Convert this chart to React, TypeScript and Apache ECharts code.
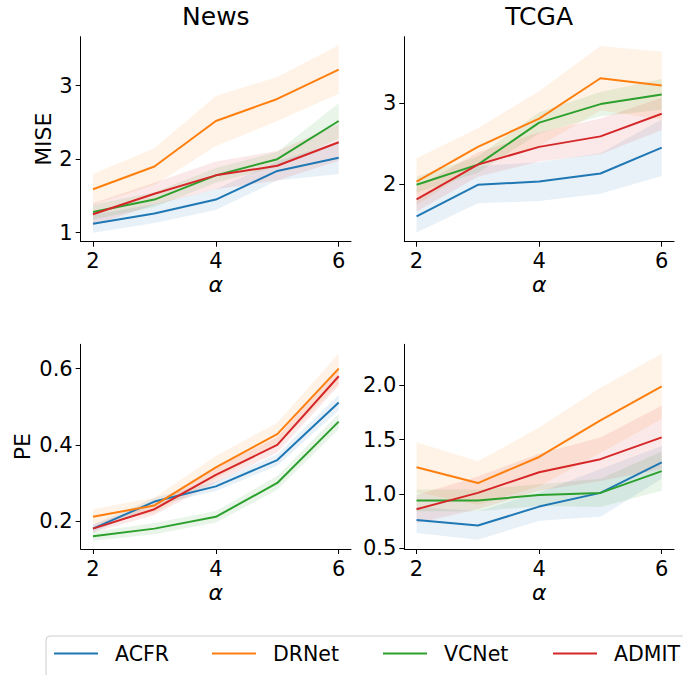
import React, { useEffect, useRef } from "react";
import * as echarts from "echarts";

// ---------- data ----------
const alphas = [2, 3, 4, 5, 6];
const methods = ["ACFR", "DRNet", "VCNet", "ADMIT"];
const colors = ["#1f77b4", "#ff7f0e", "#2ca02c", "#d62728"];
const panelTitles = ["News", "TCGA"];
const rowLabels = ["MISE", "PE"];

// News – MISE (mean, std)
const newsMiseAcfr = [1.12, 1.26, 1.45, 1.84, 2.02];
const newsMiseAcfrStd = [0.12, 0.13, 0.14, 0.13, 0.22];
const newsMiseDrnet = [1.59, 1.9, 2.52, 2.82, 3.22];
const newsMiseDrnetStd = [0.21, 0.25, 0.34, 0.3, 0.33];
const newsMiseVcnet = [1.28, 1.45, 1.78, 2.0, 2.52];
const newsMiseVcnetStd = [0.1, 0.1, 0.1, 0.1, 0.24];
const newsMiseAdmit = [1.25, 1.53, 1.78, 1.91, 2.23];
const newsMiseAdmitStd = [0.15, 0.15, 0.19, 0.2, 0.25];

// TCGA – MISE
const tcgaMiseAcfr = [1.6, 1.99, 2.03, 2.13, 2.45];
const tcgaMiseAcfrStd = [0.2, 0.23, 0.24, 0.25, 0.35];
const tcgaMiseDrnet = [2.03, 2.46, 2.81, 3.31, 3.22];
const tcgaMiseDrnetStd = [0.29, 0.23, 0.34, 0.4, 0.42];
const tcgaMiseVcnet = [1.99, 2.24, 2.76, 2.99, 3.11];
const tcgaMiseVcnetStd = [0.1, 0.1, 0.13, 0.15, 0.19];
const tcgaMiseAdmit = [1.81, 2.24, 2.46, 2.59, 2.87];
const tcgaMiseAdmitStd = [0.15, 0.15, 0.18, 0.22, 0.2];

// News – PE
const newsPeAcfr = [0.18, 0.251, 0.291, 0.36, 0.511];
const newsPeAcfrStd = [0.01, 0.01, 0.012, 0.015, 0.02];
const newsPeDrnet = [0.211, 0.241, 0.341, 0.428, 0.6];
const newsPeDrnetStd = [0.02, 0.02, 0.03, 0.03, 0.04];
const newsPeVcnet = [0.16, 0.18, 0.211, 0.3, 0.461];
const newsPeVcnetStd = [0.012, 0.015, 0.015, 0.018, 0.02];
const newsPeAdmit = [0.18, 0.231, 0.321, 0.4, 0.58];
const newsPeAdmitStd = [0.01, 0.015, 0.02, 0.02, 0.025];

// TCGA – PE
const tcgaPeAcfr = [0.76, 0.71, 0.884, 1.01, 1.29];
const tcgaPeAcfrStd = [0.12, 0.13, 0.13, 0.22, 0.15];
const tcgaPeDrnet = [1.245, 1.1, 1.34, 1.676, 1.99];
const tcgaPeDrnetStd = [0.23, 0.2, 0.27, 0.3, 0.3];
const tcgaPeVcnet = [0.94, 0.94, 0.99, 1.01, 1.21];
const tcgaPeVcnetStd = [0.1, 0.1, 0.1, 0.13, 0.18];
const tcgaPeAdmit = [0.86, 1.01, 1.2, 1.32, 1.52];
const tcgaPeAdmitStd = [0.13, 0.15, 0.17, 0.2, 0.29];

// tick values
const xTicks = [2, 4, 6];
const newsMiseTicks = [1, 2, 3];
const tcgaMiseTicks = [2, 3];
const newsPeTicks = [0.2, 0.4, 0.6];
const tcgaPeTicks = [0.5, 1.0, 1.5, 2.0];

// ---------- layout ----------
const FONT = "DejaVu Sans";
const panels = [
  {
    means: [newsMiseAcfr, newsMiseDrnet, newsMiseVcnet, newsMiseAdmit],
    stds: [newsMiseAcfrStd, newsMiseDrnetStd, newsMiseVcnetStd, newsMiseAdmitStd],
    grid: { left: 80.7, top: 36.7, width: 270.3, height: 205 },
    yMin: 0.877, yMax: 3.667, yTicks: newsMiseTicks, decimals: 0,
    yName: rowLabels[0], yNameGap: 26,
  },
  {
    means: [tcgaMiseAcfr, tcgaMiseDrnet, tcgaMiseVcnet, tcgaMiseAdmit],
    stds: [tcgaMiseAcfrStd, tcgaMiseDrnetStd, tcgaMiseVcnetStd, tcgaMiseAdmitStd],
    grid: { left: 404.3, top: 36.7, width: 269.7, height: 205 },
    yMin: 1.285, yMax: 3.825, yTicks: tcgaMiseTicks, decimals: 0,
    yName: "", yNameGap: 26,
  },
  {
    means: [newsPeAcfr, newsPeDrnet, newsPeVcnet, newsPeAdmit],
    stds: [newsPeAcfrStd, newsPeDrnetStd, newsPeVcnetStd, newsPeAdmitStd],
    grid: { left: 80.7, top: 344.3, width: 270.3, height: 204.7 },
    yMin: 0.1265, yMax: 0.664, yTicks: newsPeTicks, decimals: 1,
    yName: rowLabels[1], yNameGap: 47,
  },
  {
    means: [tcgaPeAcfr, tcgaPeDrnet, tcgaPeVcnet, tcgaPeAdmit],
    stds: [tcgaPeAcfrStd, tcgaPeDrnetStd, tcgaPeVcnetStd, tcgaPeAdmitStd],
    grid: { left: 404.3, top: 344.3, width: 269.7, height: 204.7 },
    yMin: 0.494, yMax: 2.376, yTicks: tcgaPeTicks, decimals: 1,
    yName: "", yNameGap: 47,
  },
];

const legendIconLeft = [54, 212, 383, 553];

function rgba(hex: string, a: number) {
  const n = parseInt(hex.slice(1), 16);
  return `rgba(${(n >> 16) & 255},${(n >> 8) & 255},${n & 255},${a})`;
}

function buildOption() {
  const grids: any[] = [];
  const xAxes: any[] = [];
  const yAxes: any[] = [];
  const bandSeries: any[] = [];
  const lineSeries: any[] = [];

  panels.forEach((p, i) => {
    grids.push({ ...p.grid, containLabel: false });
    xAxes.push({
      type: "value",
      gridIndex: i,
      min: 1.8,
      max: 6.2,
      axisLine: { show: true, onZero: false, lineStyle: { color: "#000", width: 1 } },
      axisTick: { show: true, customValues: xTicks, length: 5, lineStyle: { color: "#000", width: 1 } },
      axisLabel: { customValues: xTicks, fontSize: 21, color: "#000", margin: 9, fontFamily: FONT },
      splitLine: { show: false },
      name: "α",
      nameLocation: "middle",
      nameGap: 32,
      nameTextStyle: { fontSize: 22, fontStyle: "italic", color: "#000", fontFamily: FONT },
    });
    yAxes.push({
      type: "value",
      gridIndex: i,
      min: p.yMin,
      max: p.yMax,
      axisLine: { show: true, onZero: false, lineStyle: { color: "#000", width: 1 } },
      axisTick: { show: true, customValues: p.yTicks, length: 5, lineStyle: { color: "#000", width: 1 } },
      axisLabel: {
        customValues: p.yTicks,
        fontSize: 21,
        color: "#000",
        margin: 8,
        fontFamily: FONT,
        formatter: (v: number) => v.toFixed(p.decimals),
      },
      splitLine: { show: false },
      name: p.yName,
      nameLocation: "middle",
      nameGap: p.yNameGap,
      nameTextStyle: { fontSize: 22, color: "#000", fontFamily: FONT },
    });

    methods.forEach((m, k) => {
      const mean = p.means[k];
      const std = p.stds[k];
      bandSeries.push({
        type: "custom",
        name: m + " band",
        xAxisIndex: i,
        yAxisIndex: i,
        silent: true,
        clip: true,
        z: 1,
        data: alphas.map((a, j) => [a, mean[j] - std[j], mean[j] + std[j]]),
        encode: { x: 0, y: [1, 2] },
        renderItem: (params: any, api: any) => {
          if (params.dataIndex !== 0) return null;
          const upper = alphas.map((a, j) => api.coord([a, mean[j] + std[j]]));
          const lower = alphas.map((a, j) => api.coord([a, mean[j] - std[j]])).reverse();
          return {
            type: "polygon",
            shape: { points: upper.concat(lower) },
            style: { fill: rgba(colors[k], 0.1), stroke: "none" },
          };
        },
      });
      lineSeries.push({
        type: "line",
        name: m,
        xAxisIndex: i,
        yAxisIndex: i,
        symbol: "none",
        z: 3,
        color: colors[k],
        lineStyle: { color: colors[k], width: 2 },
        data: alphas.map((a, j) => [a, mean[j]]),
      });
    });
  });

  const titles = panelTitles.map((t, i) => ({
    text: t,
    left: panels[i].grid.left + panels[i].grid.width / 2,
    top: 4,
    textAlign: "center",
    padding: 0,
    textStyle: { fontSize: 25, fontWeight: "normal", color: "#000", fontFamily: FONT },
  }));

  const legends = methods.map((m, k) => ({
    data: [{ name: m, icon: "rect" }],
    left: legendIconLeft[k],
    top: 643,
    padding: 0,
    itemWidth: 44,
    itemHeight: 2,
    selectedMode: false,
    itemStyle: { color: colors[k], borderWidth: 0 },
    textStyle: { fontSize: 20.5, color: "#000", fontFamily: FONT, padding: [0, 0, 0, 12] },
  }));

  return {
    animation: false,
    backgroundColor: "#fff",
    title: titles,
    grid: grids,
    xAxis: xAxes,
    yAxis: yAxes,
    legend: legends,
    graphic: [
      {
        type: "rect",
        z: -1,
        shape: { x: 46, y: 636, width: 700, height: 80, r: 4 },
        style: { fill: "rgba(255,255,255,0.8)", stroke: "#cccccc", lineWidth: 1 },
        silent: true,
      },
    ],
    series: [...bandSeries, ...lineSeries],
  };
}

export default function App() {
  const ref = useRef<HTMLDivElement>(null);
  useEffect(() => {
    document.body.style.margin = "0";
    if (!ref.current) return;
    const chart = echarts.init(ref.current, undefined, { renderer: "svg" });
    chart.setOption(buildOption() as any);
    return () => chart.dispose();
  }, []);
  return <div ref={ref} style={{ width: 683, height: 675 }} />;
}
